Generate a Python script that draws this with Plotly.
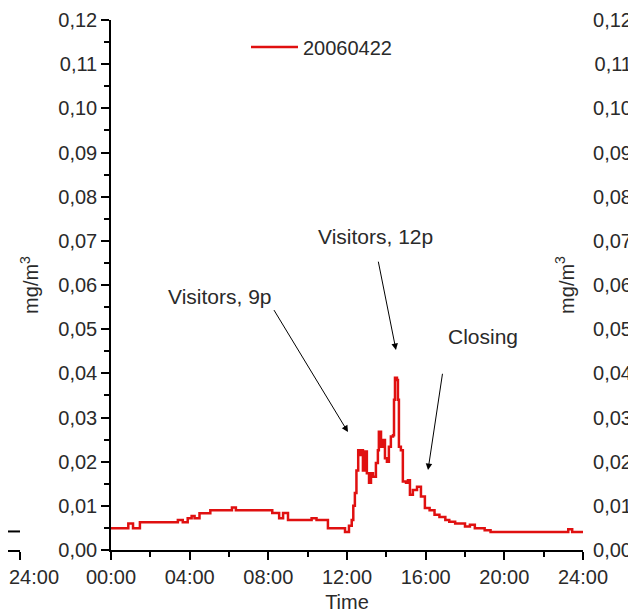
import plotly.graph_objects as go

# ---- data (hours of day, mg/m3) ----
times = [0.00, 0.88, 1.12, 1.47, 3.40, 3.65, 3.90, 4.10, 4.25, 4.50, 5.05, 6.15, 6.35,
         8.20, 8.55, 8.75, 9.00, 10.20, 10.45, 11.03, 11.90, 12.10, 12.24, 12.32, 12.40,
         12.48, 12.57, 12.66, 12.75, 12.81, 12.91, 13.01, 13.12, 13.22, 13.32, 13.47,
         13.57, 13.62, 13.73, 13.83, 13.93, 14.03, 14.13, 14.23, 14.34, 14.39, 14.44,
         14.54, 14.59, 14.64, 14.74, 14.84, 15.00, 15.10, 15.20, 15.35, 15.56, 15.76,
         15.96, 16.20, 16.45, 16.70, 17.00, 17.20, 17.50, 18.00, 18.25, 18.50, 19.00,
         19.30, 23.25, 23.45, 24.00]
values = [0.0049, 0.0060, 0.0049, 0.0063, 0.0068, 0.0063, 0.0072, 0.0077, 0.0072, 0.0083,
          0.0090, 0.0096, 0.0090, 0.0084, 0.0072, 0.0084, 0.0068, 0.0072, 0.0068, 0.0049,
          0.0041, 0.0055, 0.0068, 0.0100, 0.0129, 0.0180, 0.0226, 0.0215, 0.0226, 0.0180,
          0.0223, 0.0174, 0.0152, 0.0174, 0.0166, 0.0197, 0.0226, 0.0268, 0.0234, 0.0249,
          0.0208, 0.0200, 0.0234, 0.0257, 0.0260, 0.0340, 0.0390, 0.0385, 0.0340, 0.0234,
          0.0226, 0.0155, 0.0152, 0.0158, 0.0125, 0.0136, 0.0143, 0.0121, 0.0095, 0.0090,
          0.0080, 0.0075, 0.0068, 0.0064, 0.0060, 0.0053, 0.0057, 0.0049, 0.0045, 0.0041,
          0.0047, 0.0041, 0.0041]
series_name = "20060422"

# neighbouring (cropped) left panel trace end
left_times = [23.3, 24.0]
left_values = [0.0042, 0.0042]

x_tickvals = [0, 4, 8, 12, 16, 20, 24]
x_ticktext = ["00:00", "04:00", "08:00", "12:00", "16:00", "20:00", "24:00"]
y_tickvals = [0.00, 0.01, 0.02, 0.03, 0.04, 0.05, 0.06, 0.07, 0.08, 0.09, 0.10, 0.11, 0.12]
y_ticktext = ["0,00", "0,01", "0,02", "0,03", "0,04", "0,05", "0,06", "0,07", "0,08",
              "0,09", "0,10", "0,11", "0,12"]

# annotations: label text, arrow tip (data), tail offset (px), anchors, start standoff
label_texts = ["Visitors, 9p", "Visitors, 12p", "Closing"]
arrow_tips_x = [12.05, 14.49, 16.12]
arrow_tips_y = [0.0267, 0.0453, 0.0181]
arrow_ax = [-74, -20, 18]
arrow_ay = [-122, -100, -120]
label_xanchor = ["right", "center", "left"]
label_yanchor = ["bottom", "bottom", "bottom"]
label_startstandoff = [0, 12, 24]

FONT = "Liberation Sans, Arial, sans-serif"
TXT = "#2a2a2a"
FS = 20

# page has an 8px body margin: figure pixel = page pixel - 8
W, H = 636, 616
OFF = 8
X0, X1 = 111 - OFF, 583 - OFF      # main plot left/right (figure px)
YT, YB = 20 - OFF, 550 - OFF       # main plot top/bottom (figure px)

fig = go.Figure()
fig.add_trace(go.Scatter(x=times, y=values, mode="lines", name=series_name,
                         line=dict(color="#e01010", width=2.5, shape="hv"),
                         xaxis="x", yaxis="y"))
fig.add_trace(go.Scatter(x=left_times, y=left_values, mode="lines", showlegend=False,
                         line=dict(color="black", width=2), xaxis="x2", yaxis="y"))
# empty trace so the neighbouring panel's y axis (cropped at the right) is drawn
fig.add_trace(go.Scatter(x=[], y=[], mode="lines", showlegend=False,
                         xaxis="x", yaxis="y3"))

axis_common = dict(showline=True, linecolor="black", linewidth=1.5, ticks="outside",
                   ticklen=8, tickwidth=1.5, tickcolor="black", showgrid=False,
                   zeroline=False, automargin=False, ticklabeloverflow="allow",
                   tickfont=dict(family=FONT, size=FS, color=TXT))

annotations = []
for t, tx, ty, ax, ay, xa, ya, ss in zip(label_texts, arrow_tips_x, arrow_tips_y, arrow_ax,
                                         arrow_ay, label_xanchor, label_yanchor,
                                         label_startstandoff):
    annotations.append(dict(x=tx, y=ty, xref="x", yref="y", text=t, showarrow=True,
                            ax=ax, ay=ay, xanchor=xa, yanchor=ya, startstandoff=ss,
                            arrowhead=2, arrowsize=1.3, arrowwidth=1, arrowcolor="black",
                            font=dict(family=FONT, size=21, color=TXT)))

fig.update_layout(
    width=W, height=H,
    margin=dict(l=0, r=0, t=YT, b=H - YB, autoexpand=False),
    plot_bgcolor="white", paper_bgcolor="white",
    xaxis=dict(domain=[X0 / W, X1 / W], range=[0, 24], anchor="y",
               tickvals=x_tickvals, ticktext=x_ticktext,
               minor=dict(dtick=2, tick0=0, ticks="outside", ticklen=5, tickwidth=1.5,
                          tickcolor="black"),
               title=dict(text="Time", font=dict(family=FONT, size=FS, color=TXT), standoff=8),
               **axis_common),
    xaxis2=dict(domain=[0, 12 / W], range=[23.39, 24], anchor="y",
                tickvals=[24], ticktext=["24:00"], ticklabelshift=14, **axis_common),
    yaxis=dict(range=[0, 0.12], anchor="x", tickvals=y_tickvals, ticktext=y_ticktext,
               minor=dict(dtick=0.005, tick0=0, ticks="outside", ticklen=5, tickwidth=1.5,
                          tickcolor="black"),
               title=dict(text="mg/m<sup>3</sup>", font=dict(family=FONT, size=FS, color=TXT),
                          standoff=14),
               **axis_common),
    yaxis3=dict(range=[0, 0.12], overlaying="y", anchor="free", position=(636 - OFF) / W,
                side="left", showline=False, ticks="", tickvals=y_tickvals,
                ticktext=y_ticktext, ticklabelstandoff=4, showgrid=False, zeroline=False,
                automargin=False, ticklabeloverflow="allow",
                tickfont=dict(family=FONT, size=FS, color=TXT),
                title=dict(text="mg/m<sup>3</sup>", font=dict(family=FONT, size=FS, color=TXT),
                           standoff=12)),
    showlegend=True,
    legend=dict(x=(246 - OFF) / W, y=(YB - (47 - OFF)) / (YB - YT), xanchor="left",
                yanchor="middle", bgcolor="rgba(0,0,0,0)",
                font=dict(family=FONT, size=FS, color=TXT), itemwidth=47),
    annotations=annotations,
)

fig.write_html("out.html")
